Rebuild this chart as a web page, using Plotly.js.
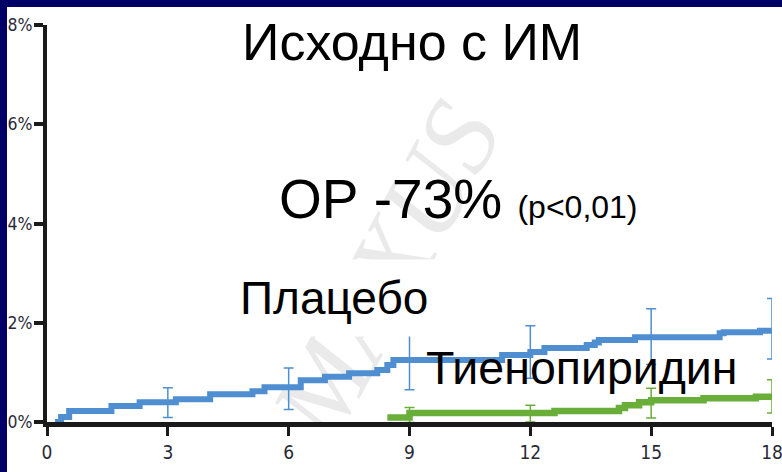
<!DOCTYPE html>
<html>
<head>
<meta charset="utf-8">
<script src="https://cdn.plot.ly/plotly-3.0.1.min.js"></script>
<style>
  html, body { margin: 0; padding: 0; background: #ffffff; }
  #chart { width: 782px; height: 472px; }
</style>
</head>
<body>
<div id="chart"></div>
<script>
// Cumulative event rate (%) by month, step curves
const placeboMonths = [0.2, 0.35, 0.55, 1.6, 2.3, 3.2, 4.05, 5.1, 5.4, 6.3, 6.9, 7.5, 8.2, 8.45, 8.6, 11.3, 12.0, 12.35, 13.4, 13.6, 13.7, 14.6, 16.7, 16.8, 17.7, 18.0];
const placeboRate   = [0.0, 0.1, 0.22, 0.32, 0.40, 0.46, 0.56, 0.62, 0.70, 0.84, 0.91, 0.98, 1.05, 1.15, 1.25, 1.35, 1.41, 1.49, 1.55, 1.60, 1.65, 1.71, 1.79, 1.81, 1.84, 1.87];

const thienoMonths = [8.45, 9.0, 12.6, 14.2, 14.35, 14.7, 15.0, 16.3, 17.6, 18.0];
const thienoRate   = [0.09, 0.18, 0.22, 0.28, 0.34, 0.40, 0.44, 0.48, 0.51, 0.52];

// Confidence intervals at the tick months
const ciMonths       = [3, 6, 9, 12, 15, 18];
const placeboCI      = [0.39, 0.67, 1.25, 1.41, 1.72, 1.88];
const placeboCIHalf  = [0.30, 0.42, 0.60, 0.53, 0.56, 0.61];
const thienoCIMonths = [9, 12, 15, 18];
const thienoCI       = [0.14, 0.17, 0.38, 0.515];
const thienoCIHalf   = [0.15, 0.17, 0.30, 0.335];

const xTicks = [0, 3, 6, 9, 12, 15, 18];
const yTicks = [0, 2, 4, 6, 8];

const blue = '#4f8fd1';
const green = '#6aae3a';
const navy = '#000066';
const tickFamily = '"DejaVu Sans Condensed", "Liberation Sans Narrow", sans-serif';
const textFont = 'Liberation Sans, Arial, sans-serif';

// page frame: plot area spans 47..772 px horizontally, 25..422 px vertically
const W = 782, H = 472, M = { l: 47, r: 10, t: 25, b: 50 };
const pw = W - M.l - M.r, ph = H - M.t - M.b;

const traces = [
  {
    x: placeboMonths, y: placeboRate, type: 'scatter', mode: 'lines',
    line: { color: blue, width: 6, shape: 'hv' }, cliponaxis: false, hoverinfo: 'skip'
  },
  {
    x: thienoMonths, y: thienoRate, type: 'scatter', mode: 'lines',
    line: { color: green, width: 6.5, shape: 'hv' }, cliponaxis: false, hoverinfo: 'skip'
  },
  {
    x: ciMonths, y: placeboCI, type: 'scatter', mode: 'markers',
    marker: { size: 1, color: 'rgba(0,0,0,0)' }, cliponaxis: false, hoverinfo: 'skip',
    error_y: { type: 'data', array: placeboCIHalf, visible: true, color: blue, thickness: 1.5, width: 5 }
  },
  {
    x: thienoCIMonths, y: thienoCI, type: 'scatter', mode: 'markers',
    marker: { size: 1, color: 'rgba(0,0,0,0)' }, cliponaxis: false, hoverinfo: 'skip',
    error_y: { type: 'data', array: thienoCIHalf, visible: true, color: green, thickness: 1.5, width: 5 }
  }
];

const layout = {
  width: W, height: H,
  margin: M,
  paper_bgcolor: '#ffffff', plot_bgcolor: '#ffffff',
  showlegend: false,
  xaxis: {
    range: [0, 18], tickvals: xTicks, ticktext: xTicks.map(String),
    showgrid: false, zeroline: false,
    showline: true, linecolor: '#1a1a1a', linewidth: 5,
    ticks: 'outside', ticklen: 9, tickwidth: 3, tickcolor: '#1a1a1a',
    tickfont: { family: tickFamily, size: 19, color: '#2a2a36' },
    ticklabeloverflow: 'allow'
  },
  yaxis: {
    range: [0, 8], tickvals: yTicks, ticktext: yTicks.map(v => v + '%'),
    showgrid: false, zeroline: false,
    showline: true, linecolor: '#1a1a1a', linewidth: 4,
    ticks: 'outside', ticklen: 9, tickwidth: 4, tickcolor: '#1a1a1a',
    tickfont: { family: tickFamily, size: 17.5, color: '#2a2a36' },
    ticklabelstandoff: -2,
    ticklabeloverflow: 'allow'
  },
  shapes: [
    {
      type: 'line', layer: 'below', xref: 'x', yref: 'y',
      x0: 7.2, y0: -1.0, x1: 11.9, y1: 6.1,
      line: { color: 'rgba(0,0,0,0)', width: 0 },
      label: {
        text: 'MAXUS', textposition: 'middle', textangle: 'auto',
        font: { family: 'Liberation Serif, DejaVu Serif, serif', size: 110, color: '#eaeaea', style: 'italic' }
      }
    },
    // navy slide frame along the top and left edges
    {
      type: 'rect', layer: 'above', xref: 'paper', yref: 'paper',
      x0: -M.l / pw, x1: (pw + M.r) / pw, y0: 1 + (M.t - 7) / ph, y1: 1 + M.t / ph,
      line: { width: 0 }, fillcolor: navy
    },
    {
      type: 'rect', layer: 'above', xref: 'paper', yref: 'paper',
      x0: -M.l / pw, x1: (7 - M.l) / pw, y0: -M.b / ph, y1: 1 + M.t / ph,
      line: { width: 0 }, fillcolor: navy
    }
  ],
  annotations: [
    {
      text: 'Исходно с ИМ', xref: 'x', yref: 'y', x: 9.05, y: 7.66,
      xanchor: 'center', yanchor: 'middle', showarrow: false,
      font: { family: textFont, size: 52, color: '#000000' }
    },
    {
      text: 'ОР -73% <span style="font-size:32px">(p&lt;0,01)</span>',
      xref: 'x', yref: 'y', x: 5.72, y: 4.5,
      xanchor: 'left', yanchor: 'middle', showarrow: false,
      font: { family: textFont, size: 55, color: '#000000' }
    },
    {
      text: 'Плацебо', xref: 'x', yref: 'y', x: 4.47, y: 2.5,
      xanchor: 'left', yanchor: 'middle', showarrow: false,
      bgcolor: '#ffffff', borderpad: 12,
      font: { family: textFont, size: 46, color: '#000000' }
    },
    {
      text: 'Тиенопиридин', xref: 'x', yref: 'y', x: 9.36, y: 1.08,
      xanchor: 'left', yanchor: 'middle', showarrow: false,
      font: { family: textFont, size: 46.5, color: '#000000' }
    }
  ]
};

Plotly.newPlot('chart', traces, layout, { displayModeBar: false, staticPlot: true });
</script>
</body>
</html>
